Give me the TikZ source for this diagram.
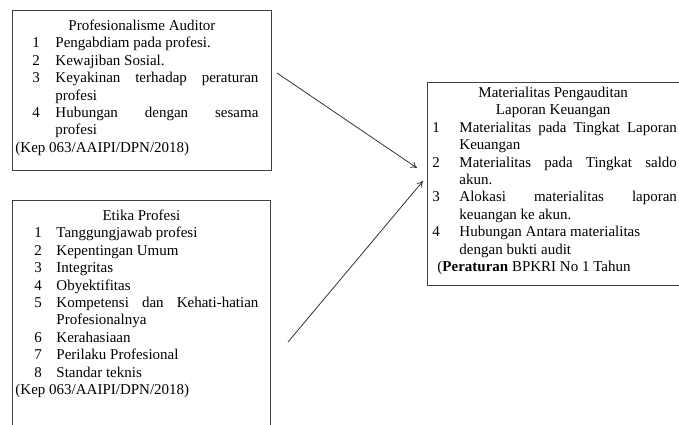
\documentclass[tikz,border=0pt]{standalone}
\usepackage{fontspec}
\setmainfont{Liberation Serif}
\usetikzlibrary{arrows.meta, positioning}

\newlength{\lebarno}
\newcommand{\butir}[2]{\par\noindent\hangindent=\lebarno\hangafter=1\makebox[\lebarno][l]{#1}#2}
\newcommand{\judul}[1]{{\leftskip=0pt plus 1fil\rightskip=\leftskip\parfillskip=0pt\noindent #1\par}}

\tikzset{
  kotak/.style={draw=black!75, line width=0.9pt, anchor=north west, inner xsep=2pt, inner ysep=0pt, align=justify},
  panah/.style={draw=black!80, line width=0.8pt, -{To[length=6pt,width=7pt]}}
}

\begin{document}
\begin{tikzpicture}[x=1pt, y=-1pt]
  \useasboundingbox (0,0) rectangle (679,424);

  % kotak kiri atas
  \node[kotak, text width=255pt, text height=20pt, text depth=140pt,
        font=\fontsize{15}{17.4}\selectfont] (auditor) at (12,10) {%
    \rightskip=11pt \setlength{\lebarno}{23pt}%
    \judul{Profesionalisme Auditor}%
    \leftskip=18pt
    \butir{1}{Pengabdiam pada profesi.}
    \butir{2}{Kewajiban Sosial.}
    \butir{3}{Keyakinan terhadap peraturan\linebreak profesi}
    \butir{4}{Hubungan dengan sesama\linebreak profesi}
    \par\leftskip=1pt\noindent(Kep 063/AAIPI/DPN/2018)\par};

  % kotak kiri bawah
  \node[kotak, text width=254pt, text height=20pt, text depth=230pt,
        font=\fontsize{15}{17.4}\selectfont] (etika) at (12,200) {%
    \rightskip=10pt \setlength{\lebarno}{22pt}%
    \judul{Etika Profesi}%
    \leftskip=20pt
    \butir{1}{Tanggungjawab profesi}
    \butir{2}{Kepentingan Umum}
    \butir{3}{Integritas}
    \butir{4}{Obyektifitas}
    \butir{5}{Kompetensi dan Kehati-hatian\linebreak Profesionalnya}
    \butir{6}{Kerahasiaan}
    \butir{7}{Perilaku Profesional}
    \butir{8}{Standar teknis}
    \par\leftskip=1pt\noindent(Kep 063/AAIPI/DPN/2018)\par};

  % kotak kanan
  \node[kotak, text width=247.5pt, text height=15pt, text depth=188pt,
        font=\fontsize{15}{17.4}\selectfont] (materialitas) at (427,82) {%
    \setlength{\lebarno}{27pt}%
    \judul{Materialitas Pengauditan}%
    \judul{Laporan Keuangan}%
    \leftskip=3pt
    \butir{1}{Materialitas pada Tingkat Laporan\linebreak Keuangan}
    \butir{2}{Materialitas pada Tingkat saldo\linebreak akun.}
    \butir{3}{Alokasi materialitas laporan\linebreak keuangan ke akun.}
    \butir{4}{Hubungan Antara materialitas\newline dengan bukti audit}
    \par\leftskip=8pt\noindent(\textbf{Peraturan} BPKRI No 1 Tahun\par};

  % panah
  \coordinate (pangkalA) at (277,73);
  \coordinate (ujungA) at (417,168);
  \coordinate (pangkalB) at (288,342);
  \coordinate (ujungB) at (423,181);
  \draw[panah] (pangkalA) -- (ujungA);
  \draw[panah] (pangkalB) -- (ujungB);
\end{tikzpicture}
\end{document}
